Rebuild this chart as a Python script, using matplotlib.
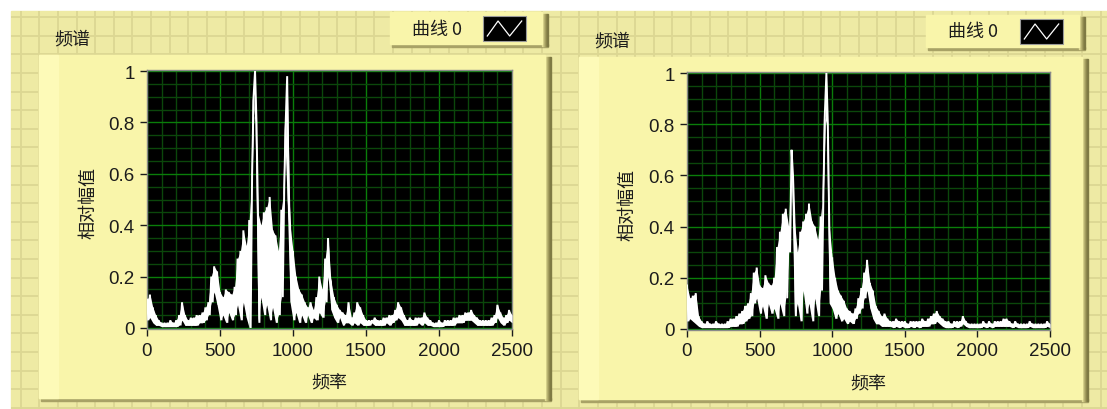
import numpy as np
import matplotlib
matplotlib.use('Agg')
import matplotlib.pyplot as plt
from matplotlib.patches import Rectangle

W, H = 1107, 410
CJK = ['Noto Sans CJK SC', 'DejaVu Sans']
NUM = ['Liberation Sans', 'DejaVu Sans']
TXT = '#1c1c1c'

# frequency bins (Hz); spectrum read as alternating peak / floor values per bin
freq = np.arange(0, 2501, 20)

left_hi = [
    0.11, 0.13, 0.08, 0.05, 0.03, 0.02, 0.02, 0.02, 0.03, 0.02,
    0.03, 0.05, 0.10, 0.05, 0.03, 0.04, 0.04, 0.05, 0.05, 0.06,
    0.08, 0.10, 0.20, 0.24, 0.22, 0.14, 0.12, 0.15, 0.14, 0.13,
    0.16, 0.27, 0.30, 0.38, 0.32, 0.42, 0.60, 1.00, 0.45, 0.40,
    0.45, 0.47, 0.51, 0.38, 0.36, 0.30, 0.46, 0.55, 0.98, 0.40,
    0.30, 0.20, 0.15, 0.13, 0.10, 0.08, 0.10, 0.07, 0.12, 0.20,
    0.15, 0.27, 0.35, 0.18, 0.12, 0.09, 0.07, 0.06, 0.05, 0.10,
    0.04, 0.06, 0.10, 0.08, 0.05, 0.03, 0.03, 0.03, 0.04, 0.03,
    0.03, 0.04, 0.04, 0.05, 0.05, 0.07, 0.10, 0.08, 0.05, 0.03,
    0.04, 0.03, 0.04, 0.04, 0.04, 0.06, 0.04, 0.03, 0.02, 0.02,
    0.03, 0.02, 0.03, 0.03, 0.03, 0.04, 0.04, 0.05, 0.05, 0.06,
    0.06, 0.07, 0.05, 0.04, 0.03, 0.03, 0.03, 0.03, 0.04, 0.05,
    0.09, 0.06, 0.04, 0.05, 0.07, 0.05,
]
left_lo = [
    0.03, 0.04, 0.02, 0.01, 0.01, 0.005, 0.005, 0.005, 0.005, 0.005,
    0.005, 0.01, 0.03, 0.01, 0.01, 0.01, 0.01, 0.01, 0.02, 0.02,
    0.03, 0.05, 0.10, 0.14, 0.09, 0.03, 0.05, 0.02, 0.06, 0.03,
    0.05, 0.09, 0.03, 0.10, 0.04, 0.00, 0.90, 0.80, 0.02, 0.12,
    0.05, 0.09, 0.03, 0.08, 0.02, 0.05, 0.12, 0.80, 0.50, 0.10,
    0.03, 0.06, 0.02, 0.05, 0.02, 0.05, 0.02, 0.04, 0.03, 0.06,
    0.04, 0.10, 0.20, 0.07, 0.04, 0.02, 0.04, 0.01, 0.02, 0.02,
    0.01, 0.02, 0.01, 0.02, 0.01, 0.01, 0.01, 0.02, 0.01, 0.01,
    0.01, 0.01, 0.02, 0.01, 0.02, 0.03, 0.04, 0.03, 0.01, 0.01,
    0.01, 0.01, 0.01, 0.02, 0.01, 0.02, 0.01, 0.01, 0.005, 0.005,
    0.005, 0.005, 0.01, 0.01, 0.01, 0.01, 0.02, 0.02, 0.02, 0.03,
    0.03, 0.03, 0.02, 0.01, 0.01, 0.01, 0.01, 0.01, 0.01, 0.02,
    0.04, 0.02, 0.01, 0.02, 0.03, 0.02,
]
right_hi = [
    0.17, 0.12, 0.13, 0.14, 0.05, 0.03, 0.02, 0.03, 0.02, 0.02,
    0.03, 0.02, 0.02, 0.02, 0.03, 0.04, 0.04, 0.05, 0.06, 0.07,
    0.09, 0.10, 0.14, 0.22, 0.24, 0.17, 0.16, 0.21, 0.18, 0.17,
    0.20, 0.32, 0.38, 0.45, 0.47, 0.40, 0.70, 0.42, 0.30, 0.38,
    0.42, 0.45, 0.49, 0.42, 0.40, 0.35, 0.44, 0.55, 1.00, 0.40,
    0.28, 0.20, 0.15, 0.13, 0.11, 0.08, 0.07, 0.06, 0.08, 0.12,
    0.16, 0.22, 0.27, 0.18, 0.15, 0.09, 0.07, 0.05, 0.06, 0.04,
    0.03, 0.03, 0.04, 0.03, 0.03, 0.03, 0.02, 0.03, 0.03, 0.03,
    0.03, 0.04, 0.03, 0.04, 0.05, 0.06, 0.07, 0.05, 0.04, 0.03,
    0.03, 0.02, 0.03, 0.03, 0.03, 0.05, 0.03, 0.02, 0.02, 0.02,
    0.02, 0.02, 0.03, 0.02, 0.03, 0.02, 0.03, 0.03, 0.03, 0.04,
    0.04, 0.03, 0.02, 0.03, 0.02, 0.02, 0.02, 0.02, 0.03, 0.02,
    0.02, 0.02, 0.02, 0.02, 0.03, 0.02,
]
right_lo = [
    0.03, 0.04, 0.03, 0.02, 0.01, 0.005, 0.005, 0.005, 0.005, 0.005,
    0.005, 0.005, 0.005, 0.005, 0.005, 0.01, 0.01, 0.01, 0.02, 0.02,
    0.03, 0.04, 0.05, 0.10, 0.12, 0.06, 0.09, 0.04, 0.10, 0.06,
    0.08, 0.04, 0.10, 0.05, 0.12, 0.30, 0.60, 0.05, 0.10, 0.03,
    0.15, 0.06, 0.10, 0.03, 0.12, 0.05, 0.15, 0.85, 0.80, 0.10,
    0.08, 0.04, 0.06, 0.03, 0.04, 0.02, 0.03, 0.02, 0.04, 0.06,
    0.08, 0.12, 0.15, 0.08, 0.04, 0.02, 0.02, 0.01, 0.01, 0.01,
    0.01, 0.005, 0.01, 0.005, 0.01, 0.005, 0.005, 0.01, 0.005, 0.01,
    0.005, 0.01, 0.01, 0.01, 0.02, 0.02, 0.03, 0.02, 0.01, 0.005,
    0.005, 0.005, 0.01, 0.005, 0.01, 0.02, 0.01, 0.005, 0.005, 0.005,
    0.005, 0.005, 0.01, 0.005, 0.01, 0.005, 0.01, 0.01, 0.01, 0.01,
    0.01, 0.01, 0.005, 0.01, 0.005, 0.005, 0.005, 0.005, 0.01, 0.005,
    0.005, 0.005, 0.005, 0.005, 0.01, 0.005,
]

x_ticks = [0, 500, 1000, 1500, 2000, 2500]
y_ticks = [0, 0.2, 0.4, 0.6, 0.8, 1]
y_labels = ['0', '0.2', '0.4', '0.6', '0.8', '1']
title = '频谱'
x_title = '频率'
y_title = '相对幅值'
legend_text = '曲线 0'


def frac(x0, y0, x1, y1):
    return [x0 / W, 1 - y1 / H, (x1 - x0) / W, (y1 - y0) / H]


fig = plt.figure(figsize=(W / 100, H / 100), dpi=100)
fig.patch.set_facecolor('white')
bg = fig.add_axes([0, 0, 1, 1])
bg.set_xlim(0, W)
bg.set_ylim(H, 0)
bg.axis('off')

# LabVIEW panel background with its grid
bg.add_patch(Rectangle((11, 12), W - 11, H - 12, color='#EEEAA4', zorder=0))
gx = np.arange(20.7, W, 18.62)
gy = np.arange(18.1, H, 18.6)
bg.vlines(gx, 12, H, color='#DCD793', lw=1.3, zorder=1)
bg.hlines(gy, 11, W, color='#DCD793', lw=1.3, zorder=1)


def raised_box(x0, y0, x1, y1, strip=0):
    shades = ['#E6E199', '#D2CC86', '#BDB774', '#A7A162', '#918B50', '#7F7A44']
    bg.add_patch(Rectangle((x0 + 2, y1 - 3), x1 - x0 - 2, 3, color='#A8A266', zorder=2))
    for i, c in enumerate(shades):
        bg.add_patch(Rectangle((x1 - 6 + i, y0 + 2), 1, y1 - y0 - 3, color=c, zorder=2))
    bg.add_patch(Rectangle((x0, y0), x1 - x0 - 6, y1 - y0 - 3, color='#F9F5AA', zorder=3))
    if strip:
        bg.add_patch(Rectangle((x0, y0), strip, y1 - y0 - 3, color='#FDFAB8', zorder=3))


def legend(x0, y0, x1, y1, sw0, sw1):
    raised_box(x0, y0, x1, y1)
    bg.text((x0 + sw0) / 2, (y0 + y1) / 2 - 1, legend_text, family=CJK, fontsize=13,
            color=TXT, ha='center', va='center', zorder=5)
    sy0, sy1 = y0 + 4, y1 - 6
    bg.add_patch(Rectangle((sw0, sy0), sw1 - sw0, sy1 - sy0, facecolor='black',
                           edgecolor='#9a9a9a', lw=0.8, zorder=5))
    w, h = sw1 - sw0, sy1 - sy0
    zx = [sw0 + 0.1 * w, sw0 + 0.35 * w, sw0 + 0.62 * w, sw0 + 0.9 * w]
    zy = [sy0 + 0.8 * h, sy0 + 0.2 * h, sy0 + 0.8 * h, sy0 + 0.2 * h]
    bg.plot(zx, zy, color='white', lw=0.9, zorder=6)


def graph(frame, plot, title_xy, ylab_x, hi, lo):
    fx0, fy0, fx1, fy1 = frame
    raised_box(fx0, fy0, fx1, fy1, strip=19)
    bg.text(title_xy[0], title_xy[1], title, family=CJK, fontsize=13, color=TXT,
            ha='center', va='center', zorder=5)
    px0, py0, px1, py1 = plot
    bg.text(ylab_x, (py0 + py1) / 2 + 3, y_title, family=CJK, fontsize=13, color=TXT,
            ha='center', va='center', rotation=90, zorder=5)
    bg.text((px0 + px1) / 2, fy1 - 18, x_title, family=CJK, fontsize=13, color=TXT,
            ha='center', va='center', zorder=5)

    ax = fig.add_axes(frac(*plot))
    ax.set_facecolor('black')
    ax.set_xlim(0, 2500)
    ax.set_ylim(-0.004, 1.004)
    ax.set_xticks(np.arange(0, 2501, 100), minor=True)
    ax.set_yticks(np.arange(0, 1.001, 0.05), minor=True)
    ax.set_xticks(x_ticks)
    ax.set_yticks(y_ticks)
    ax.set_yticklabels(y_labels)
    ax.grid(which='minor', color='#0b470b', lw=1.0)
    ax.grid(which='major', color='#0a7d0a', lw=1.0)
    ax.set_axisbelow(True)
    ax.tick_params(which='minor', length=0)
    ax.tick_params(which='major', direction='out', color=TXT, width=1.0,
                   length=5, pad=4, labelsize=13.5, labelcolor=TXT)
    for lab in ax.get_xticklabels() + ax.get_yticklabels():
        lab.set_family(NUM)
    for s in ax.spines.values():
        s.set_color('#8a8a8a')
        s.set_linewidth(1.0)

    # dense band between floor and peak, plus the jagged trace on top
    ax.fill_between(freq, lo, hi, color='white', lw=0, zorder=3)
    xs = np.column_stack([freq, freq + 10]).ravel()
    ys = np.column_stack([hi, lo]).ravel()
    ax.plot(xs, ys, color='white', lw=1.4, solid_joinstyle='miter', zorder=4)
    return ax


legend(390, 13, 548, 48, 483, 526)
legend(926, 16, 1085, 51, 1020, 1063)
graph((39, 56, 551, 402), (147, 71, 512, 330), (72, 39), 88, left_hi, left_lo)
graph((579, 58, 1088, 403), (687, 73, 1050, 331), (612, 42), 627, right_hi, right_lo)

fig.savefig('out.png', dpi=100, facecolor=fig.get_facecolor())
